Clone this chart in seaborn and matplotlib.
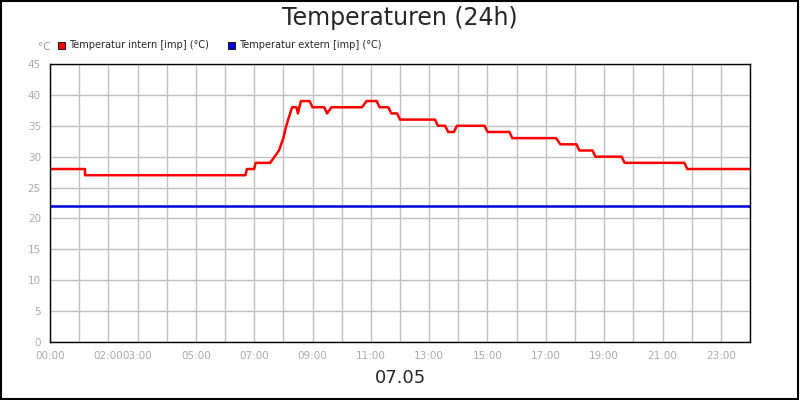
import matplotlib
matplotlib.use("Agg")
import matplotlib.pyplot as plt
import seaborn as sns
from matplotlib.patches import Rectangle

sns.set_style("white")
plt.rcParams['font.family'] = ['DejaVu Sans']

# time in hours, value in °C (step points)
t_in = [0, 1.2, 1.2, 6.7, 6.75, 7.0, 7.05, 7.55, 7.7, 7.85, 8.0, 8.1, 8.3, 8.45, 8.5, 8.6, 8.9, 9.0, 9.4, 9.5, 9.65, 10.7, 10.85, 11.2, 11.3, 11.6, 11.7, 11.9, 12.0,
        13.2, 13.3, 13.55, 13.65, 13.85, 13.95, 14.9, 15.0, 15.75, 15.85, 17.35, 17.5, 18.05, 18.15, 18.6, 18.7, 19.6, 19.7, 21.75, 21.85, 24.0]
v_in = [28, 28, 27, 27, 28, 28, 29, 29, 30, 31, 33, 35, 38, 38, 37, 39, 39, 38, 38, 37, 38, 38, 39, 39, 38, 38, 37, 37, 36,
        36, 35, 35, 34, 34, 35, 35, 34, 34, 33, 33, 32, 32, 31, 31, 30, 30, 29, 29, 28, 28]
t_ex = [0, 24]
v_ex = [22, 22]
tick_hours = [0, 2, 3, 5, 7, 9, 11, 13, 15, 17, 19, 21, 23]
tick_labels = ["00:00", "02:00", "03:00", "05:00", "07:00", "09:00", "11:00", "13:00", "15:00", "17:00", "19:00", "21:00", "23:00"]

fig = plt.figure(figsize=(8, 4), dpi=100)
ax = fig.add_axes([50/800, 58/400, 700/800, 278/400])
sns.lineplot(x=t_in, y=v_in, ax=ax, color="#ff0000", lw=1.8, estimator=None, sort=False)
sns.lineplot(x=t_ex, y=v_ex, ax=ax, color="#0000dd", lw=1.8, estimator=None, sort=False)
ax.set_xlim(0, 24)
ax.set_ylim(0, 45)
ax.set_xticks(range(0, 25))
ax.set_xticklabels([tick_labels[tick_hours.index(h)] if h in tick_hours else "" for h in range(25)])
ax.set_yticks(range(0, 46, 5))
ax.grid(True, color="#c0c0c0", lw=1)
ax.set_axisbelow(True)
ax.tick_params(colors="#aaaaaa", labelsize=7.5, length=3, width=0.8)
for s in ax.spines.values():
    s.set_color("black"); s.set_linewidth(1)

fig.text(0.5, 0.955, "Temperaturen (24h)", ha="center", va="center", fontsize=17)
fig.text(0.5, 0.055, "07.05", ha="center", va="center", fontsize=13)
fig.text(38/800, 1-47/400, "°C", color="#999999", fontsize=7.5, va="center")
# legend
for x0, col, lab in [(58, "#ff0000", "Temperatur intern [imp] (°C)"), (228, "#0000dd", "Temperatur extern [imp] (°C)")]:
    fig.patches.append(Rectangle((x0/800, 1-49/400), 7/800, 7/400, transform=fig.transFigure,
                                 facecolor=col, edgecolor="black", lw=0.6))
    fig.text((x0+11)/800, 1-45.5/400, lab, fontsize=7, va="center")
fig.patches.append(Rectangle((0.001, 0.002), 0.997, 0.996, transform=fig.transFigure,
                             fill=False, edgecolor="black", lw=1.5))
fig.savefig("out.png", dpi=100)
